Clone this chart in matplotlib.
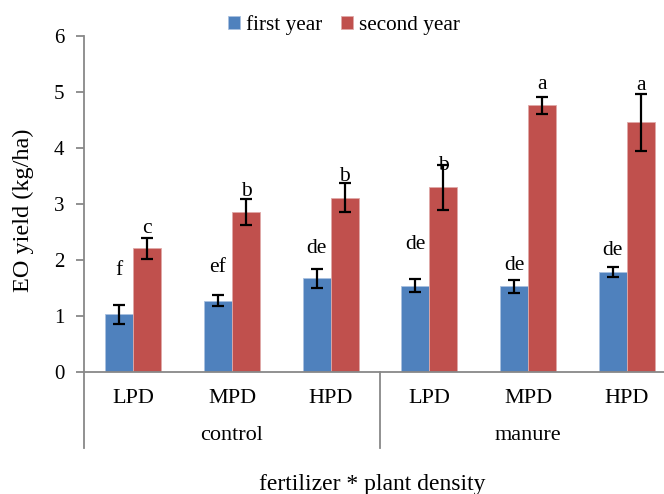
import matplotlib
matplotlib.use("Agg")
import matplotlib.pyplot as plt
import matplotlib.transforms as mtransforms
import numpy as np

plt.rcParams['font.family'] = ['Liberation Serif', 'DejaVu Serif']

groups = ["control", "manure"]
densities = ["LPD", "MPD", "HPD", "LPD", "MPD", "HPD"]
series_names = ["first year", "second year"]
first_year = [1.03, 1.27, 1.67, 1.54, 1.53, 1.79]
first_err = [0.17, 0.10, 0.17, 0.12, 0.115, 0.09]
second_year = [2.21, 2.86, 3.11, 3.30, 4.76, 4.46]
second_err = [0.19, 0.23, 0.26, 0.40, 0.15, 0.51]
first_letters = ["f", "ef", "de", "de", "de", "de"]
second_letters = ["c", "b", "b", "b", "a", "a"]
first_letter_y = [1.73, 1.79, 2.13, 2.19, 1.82, 2.09]
second_letter_y = [2.49, 3.14, 3.41, 3.61, 5.05, 5.04]

W, H = 664, 494
fig = plt.figure(figsize=(W / 100, H / 100), dpi=100)
ax = fig.add_axes([84 / W, (H - 372) / H, (W - 84) / W, 336 / H])

blue = "#4F81BD"
red = "#C0504D"
x = np.arange(len(densities))
bw = 0.284
ekw = dict(ecolor="black", elinewidth=1.6, capsize=4.5, capthick=1.6)
ax.bar(x - bw / 2, first_year, bw, color=blue, edgecolor="#A9C1E0", linewidth=0.6,
       yerr=first_err, error_kw=ekw, label=series_names[0], zorder=2)
ax.bar(x + bw / 2, second_year, bw, color=red, edgecolor="#E0A9A8", linewidth=0.6,
       yerr=second_err, error_kw=ekw, label=series_names[1], zorder=2)

for i in range(len(x)):
    ax.text(x[i] - bw / 2, first_letter_y[i], first_letters[i], ha="center", va="baseline",
            fontsize=15.5, zorder=3)
    ax.text(x[i] + bw / 2, second_letter_y[i], second_letters[i], ha="center", va="baseline",
            fontsize=15.5, zorder=3)

ax.set_xlim(-0.5, -0.5 + (W - 84) / 98.7)
ax.set_ylim(0, 6)
ax.set_yticks(range(0, 7))
ax.set_xticks(x)
ax.set_xticklabels(densities, fontsize=16)
ax.tick_params(axis="x", length=0, pad=12)
ax.tick_params(axis="y", length=6, width=1.3, color="#888888", labelsize=15, pad=8, direction="out")
for s in ["top", "right"]:
    ax.spines[s].set_visible(False)
for s in ["left", "bottom"]:
    ax.spines[s].set_color("#888888")
    ax.spines[s].set_linewidth(1.3)

trans = mtransforms.blended_transform_factory(ax.transData, ax.transAxes)
for xs in [-0.5, 2.5, 5.5]:
    ax.plot([xs, xs], [0, -0.226], transform=trans, color="#888888", lw=1.3, clip_on=False)
for gi, g in enumerate(groups):
    ax.text(1 + 3 * gi, -0.19, g, transform=trans, ha="center", va="center", fontsize=16)

fig.text(372 / W, 1 - 484 / H, "fertilizer * plant density", ha="center", va="center", fontsize=17)
fig.text(23 / W, 1 - 210 / H, "EO yield (kg/ha)", ha="center", va="center", rotation=90, fontsize=17.5)

fig.legend(loc="center", bbox_to_anchor=(344 / W, 1 - 25 / H), ncol=2, frameon=False,
           handlelength=0.55, handleheight=0.55, handletextpad=0.3, columnspacing=0.9,
           fontsize=15.3, borderpad=0)

fig.savefig("out.png", dpi=100)
